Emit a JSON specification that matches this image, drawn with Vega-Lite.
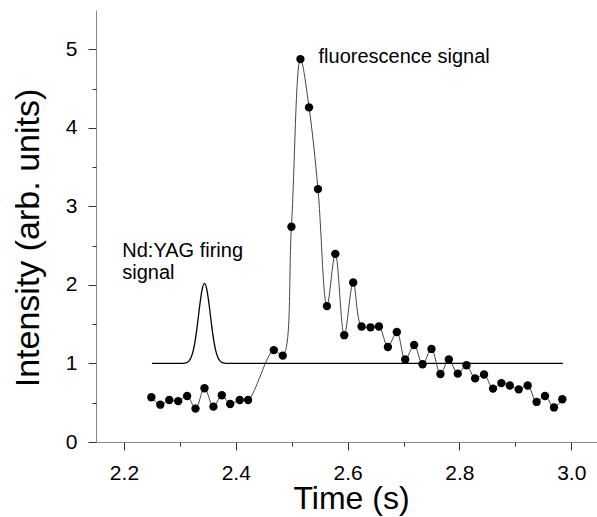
{
  "$schema": "https://vega.github.io/schema/vega-lite/v6.json",
  "width": 501,
  "height": 432,
  "autosize": "none",
  "padding": {"left": 96, "top": 10, "right": 0, "bottom": 75},
  "background": "white",
  "config": {
    "view": {"stroke": null},
    "font": "Liberation Sans",
    "axis": {"grid": false, "labelFont": "Liberation Sans", "titleFont": "Liberation Sans", "labelColor": "black", "titleColor": "black", "titleFontWeight": "normal", "domainColor": "#888", "tickColor": "#333"}
  },
  "datasets": {
    "fluor": [
      {"t": 2.249, "v": 0.57}, {"t": 2.265, "v": 0.475}, {"t": 2.281, "v": 0.535}, {"t": 2.297, "v": 0.52},
      {"t": 2.313, "v": 0.586}, {"t": 2.328, "v": 0.425}, {"t": 2.344, "v": 0.684}, {"t": 2.36, "v": 0.45},
      {"t": 2.375, "v": 0.595}, {"t": 2.39, "v": 0.484}, {"t": 2.407, "v": 0.535}, {"t": 2.422, "v": 0.535},
      {"t": 2.468, "v": 1.17}, {"t": 2.484, "v": 1.1}, {"t": 2.4995, "v": 2.74}, {"t": 2.5156, "v": 4.875},
      {"t": 2.531, "v": 4.26}, {"t": 2.547, "v": 3.22}, {"t": 2.563, "v": 1.73}, {"t": 2.578, "v": 2.395},
      {"t": 2.594, "v": 1.36}, {"t": 2.61, "v": 2.03}, {"t": 2.625, "v": 1.47}, {"t": 2.641, "v": 1.46},
      {"t": 2.656, "v": 1.47}, {"t": 2.672, "v": 1.21}, {"t": 2.688, "v": 1.4}, {"t": 2.703, "v": 1.05},
      {"t": 2.719, "v": 1.235}, {"t": 2.734, "v": 0.99}, {"t": 2.75, "v": 1.185}, {"t": 2.766, "v": 0.866},
      {"t": 2.781, "v": 1.05}, {"t": 2.797, "v": 0.87}, {"t": 2.8125, "v": 0.977}, {"t": 2.828, "v": 0.81},
      {"t": 2.844, "v": 0.86}, {"t": 2.86, "v": 0.68}, {"t": 2.875, "v": 0.75}, {"t": 2.89, "v": 0.72},
      {"t": 2.906, "v": 0.67}, {"t": 2.922, "v": 0.72}, {"t": 2.938, "v": 0.51}, {"t": 2.953, "v": 0.586},
      {"t": 2.969, "v": 0.44}, {"t": 2.984, "v": 0.544}
    ],
    "yag": [
      {"t": 2.25, "v": 1.0}, {"t": 2.304, "v": 1.0}, {"t": 2.308, "v": 1.003}, {"t": 2.312, "v": 1.01},
      {"t": 2.316, "v": 1.029}, {"t": 2.32, "v": 1.075}, {"t": 2.324, "v": 1.166}, {"t": 2.328, "v": 1.319},
      {"t": 2.332, "v": 1.531}, {"t": 2.336, "v": 1.763}, {"t": 2.34, "v": 1.949}, {"t": 2.344, "v": 2.02},
      {"t": 2.348, "v": 1.949}, {"t": 2.352, "v": 1.763}, {"t": 2.356, "v": 1.531}, {"t": 2.36, "v": 1.319},
      {"t": 2.364, "v": 1.166}, {"t": 2.368, "v": 1.075}, {"t": 2.372, "v": 1.029}, {"t": 2.376, "v": 1.01},
      {"t": 2.38, "v": 1.003}, {"t": 2.384, "v": 1.0}, {"t": 2.985, "v": 1.0}
    ],
    "notes": [
      {"t": 2.197, "v": 2.357, "label": ["Nd:YAG firing", "signal"]},
      {"t": 2.548, "v": 4.83, "label": ["fluorescence signal"]}
    ]
  },
  "resolve": {"axis": {"x": "independent", "y": "independent"}},
  "layer": [
    {
      "data": {"name": "fluor"},
      "mark": {"type": "line", "interpolate": "catmull-rom", "color": "#444", "strokeWidth": 1},
      "encoding": {
        "x": {"field": "t", "type": "quantitative", "scale": {"domain": [2.15, 3.046], "nice": false, "zero": false},
          "axis": {"orient": "bottom", "values": [2.2, 2.4, 2.6, 2.8, 3.0], "format": ".1f", "labelFontSize": 21, "labelFlush": false, "labelOverlap": false, "tickSize": 8, "labelPadding": 12,
            "title": "Time (s)", "titleFontSize": 32, "titleBaseline": "alphabetic", "titleY": 66, "titleX": 255}},
        "y": {"field": "v", "type": "quantitative", "scale": {"domain": [0, 5.5], "nice": false},
          "axis": {"orient": "left", "values": [0, 1, 2, 3, 4, 5], "format": "d", "labelFontSize": 21, "labelFlush": false, "labelOverlap": false, "tickSize": 8, "labelPadding": 11,
            "title": "Intensity (arb. units)", "titleFontSize": 34, "titleBaseline": "alphabetic", "titleX": -58, "titleY": 227.5}}
      }
    },
    {
      "data": {"name": "fluor"},
      "mark": {"type": "point", "filled": true, "color": "black", "opacity": 1, "size": 70},
      "encoding": {
        "x": {"field": "t", "type": "quantitative", "axis": null},
        "y": {"field": "v", "type": "quantitative", "axis": null}
      }
    },
    {
      "data": {"name": "yag"},
      "mark": {"type": "line", "interpolate": "monotone", "color": "black", "strokeWidth": 1.3},
      "encoding": {
        "x": {"field": "t", "type": "quantitative",
          "axis": {"orient": "bottom", "values": [2.3, 2.5, 2.7, 2.9], "labels": false, "domain": false, "title": null, "tickSize": 4}},
        "y": {"field": "v", "type": "quantitative",
          "axis": {"orient": "left", "values": [0.5, 1.5, 2.5, 3.5, 4.5], "labels": false, "domain": false, "title": null, "tickSize": 4}}
      }
    },
    {
      "data": {"name": "notes"},
      "mark": {"type": "text", "align": "left", "baseline": "alphabetic", "fontSize": 20, "lineHeight": 22, "color": "black", "font": "Liberation Sans"},
      "encoding": {
        "x": {"field": "t", "type": "quantitative", "axis": null},
        "y": {"field": "v", "type": "quantitative", "axis": null},
        "text": {"field": "label"}
      }
    }
  ]
}
